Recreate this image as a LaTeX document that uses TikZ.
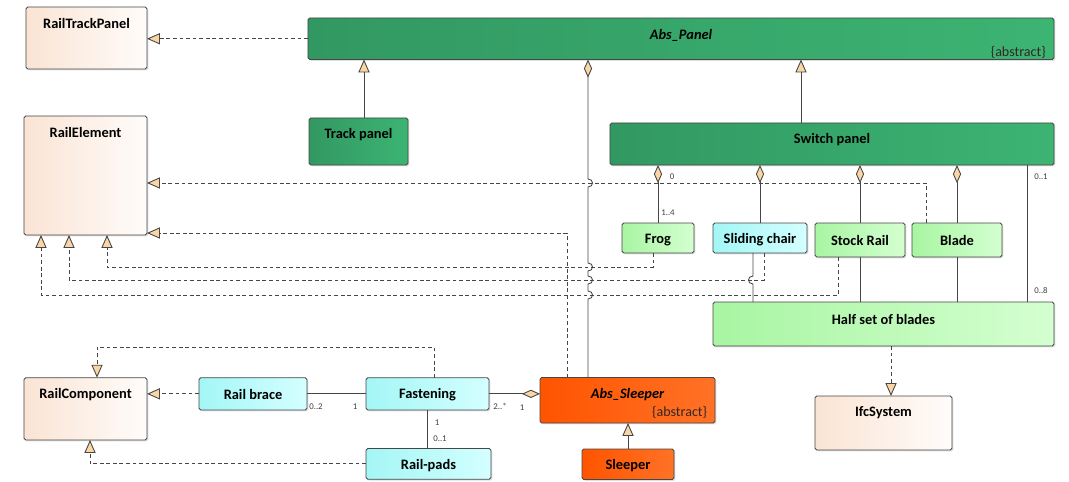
\documentclass[tikz,border=0pt]{standalone}
\usepackage{fontspec}
\setmainfont{Carlito}
\usetikzlibrary{arrows.meta,shadows}

\definecolor{boxline}{RGB}{70,70,70}
\definecolor{conline}{RGB}{70,70,70}
\definecolor{tipfill}{RGB}{250,214,165}
\definecolor{beigeL}{RGB}{250,228,212}
\definecolor{beigeR}{RGB}{255,252,250}
\definecolor{pineL}{RGB}{50,152,98}
\definecolor{pineR}{RGB}{60,180,114}
\definecolor{limeL}{RGB}{168,245,162}
\definecolor{limeR}{RGB}{212,255,208}
\definecolor{aquaL}{RGB}{164,246,246}
\definecolor{aquaR}{RGB}{212,255,255}
\definecolor{rustL}{RGB}{255,84,0}
\definecolor{rustR}{RGB}{255,114,38}
\definecolor{abstext}{RGB}{50,40,35}
\definecolor{multtext}{RGB}{60,60,60}

\begin{document}
\begin{tikzpicture}[x=0.03cm, y=-0.03cm,
        cls/.style = {draw=boxline, line width=0.7pt, rounded corners=1.5pt,
            inner sep=0pt, outer sep=0pt,
            drop shadow={shadow xshift=1.2pt, shadow yshift=-1.2pt, opacity=0.25}},
        ifcbox/.style = {cls, left color=beigeL, right color=beigeR},
        panelbox/.style = {cls, left color=pineL, right color=pineR},
        partbox/.style = {cls, left color=limeL, right color=limeR},
        compbox/.style = {cls, left color=aquaL, right color=aquaR},
        sleeperbox/.style = {cls, left color=rustL, right color=rustR},
        title/.style = {anchor=center, yshift=-0.51cm, inner sep=0pt,
            font=\fontsize{12.3}{14}\selectfont\bfseries},
        abst/.style = {anchor=east, inner sep=0pt, text=abstext,
            font=\fontsize{12}{14}\selectfont},
        mult/.style = {inner sep=0pt, text=multtext,
            font=\fontsize{7.5}{8}\selectfont},
        assoc/.style = {draw=conline, line width=0.75pt},
        gen/.style = {assoc, -{Triangle[length=11pt, width=9.5pt, fill=tipfill]}},
        real/.style = {gen, dash pattern=on 3.2pt off 2.4pt},
        agg/.style = {assoc, -{Diamond[length=15.5pt, width=7pt, fill=tipfill]}}]

    \useasboundingbox (0,0) rectangle (1069,482);

    % IFC classes
    \node[ifcbox, minimum width=3.63cm, minimum height=1.86cm,
        label={[title]north:RailTrackPanel}] (rtp) at (86.5,38) {};
    \node[ifcbox, minimum width=3.69cm, minimum height=3.57cm,
        label={[title]north:RailElement}] (railE) at (85.5,175.5) {};
    \node[ifcbox, minimum width=3.69cm, minimum height=1.87cm,
        label={[title]north:RailComponent}] (railC) at (85.5,408.85) {};
    \node[ifcbox, minimum width=4.11cm, minimum height=1.62cm,
        label={[title]north:IfcSystem}] (ifc) at (883.5,423) {};

    % Panels
    \node[panelbox, minimum width=22.38cm, minimum height=1.245cm,
        label={[title, font=\fontsize{12.3}{14}\selectfont\bfseries\itshape]north:Abs\_Panel},
        label={[abst, xshift=-0.24cm, yshift=0.21cm]south east:\{abstract\}}] (absP) at (681,38.75) {};
    \node[panelbox, minimum width=2.97cm, minimum height=1.41cm,
        label={[title]north:Track panel}] (trackP) at (358.5,141.5) {};
    \node[panelbox, minimum width=13.32cm, minimum height=1.26cm,
        label={[title]north:Switch panel}] (switchP) at (832,144) {};

    % Switch parts
    \node[partbox, minimum width=2.16cm, minimum height=0.9cm,
        label={[title]north:Frog}] (frog) at (658,238) {};
    \node[compbox, minimum width=2.82cm, minimum height=0.9cm,
        label={[title]north:Sliding chair}] (slide) at (760,238) {};
    \node[partbox, minimum width=2.7cm, minimum height=1.02cm,
        label={[title]north:Stock Rail}] (stock) at (860,240) {};
    \node[partbox, minimum width=2.7cm, minimum height=1.02cm,
        label={[title]north:Blade}] (blade) at (957,240) {};
    \node[partbox, minimum width=10.23cm, minimum height=1.32cm,
        label={[title]north:Half set of blades}] (half) at (883.5,324) {};

    % Sleepers
    \node[sleeperbox, minimum width=5.25cm, minimum height=1.365cm,
        label={[title, font=\fontsize{12.3}{14}\selectfont\bfseries\itshape]north:Abs\_Sleeper},
        label={[abst, xshift=-0.23cm, yshift=0.33cm]south east:\{abstract\}}] (absSl) at (627.5,400.25) {};
    \node[sleeperbox, minimum width=2.76cm, minimum height=0.915cm,
        label={[title]north:Sleeper}] (sleeper) at (628,464.25) {};

    % Components
    \node[compbox, minimum width=3.24cm, minimum height=0.97cm,
        label={[title]north:Rail brace}] (brace) at (253,393.85) {};
    \node[compbox, minimum width=3.69cm, minimum height=0.97cm,
        label={[title]north:Fastening}] (fast) at (427.5,393.85) {};
    \node[compbox, minimum width=3.75cm, minimum height=0.924cm,
        label={[title]north:Rail-pads}] (pads) at (428.5,463.9) {};

    % Connector lanes and bends
    \coordinate (gTP) at (364,0);
    \coordinate (gSP) at (801,0);
    \coordinate (aSl) at (588,0);
    \coordinate (aSc) at (753,0);
    \coordinate (aSw) at (1027,0);
    \coordinate (rHs) at (891,0);
    \coordinate (rSl) at (567,233);
    \coordinate (rBl) at (926,183);
    \coordinate (rFr) at (653,267);
    \coordinate (eFr) at (107,267);
    \coordinate (rSc) at (764,280);
    \coordinate (eSc) at (69,280);
    \coordinate (rSr) at (838,295);
    \coordinate (eSr) at (41,295);
    \coordinate (rFa) at (434,347);
    \coordinate (eFa) at (97,347);
    \coordinate (ePd) at (90,0);

    % Generalizations
    \draw[gen] (trackP.north -| gTP) -- (absP.south -| gTP);
    \draw[gen] (switchP.north -| gSP) -- (absP.south -| gSP);
    \draw[gen] (sleeper.north) -- (sleeper.north |- absSl.south);

    % Realizations
    \draw[real] (absP.west) -- (absP.west -| rtp.east);
    \draw[real] (blade.north -| rBl) |- (railE.east |- rBl);
    \draw[real] (absSl.north -| rSl) |- (railE.east |- rSl);
    \draw[real] (frog.south -| rFr) -- (rFr) -- (eFr) -- (railE.south -| eFr);
    \draw[real] (slide.south -| rSc) -- (rSc) -- (eSc) -- (railE.south -| eSc);
    \draw[real] (stock.south -| rSr) -- (rSr) -- (eSr) -- (railE.south -| eSr);
    \draw[real] (half.south -| rHs) -- (ifc.north -| rHs);
    \draw[real] (brace.west) -- (brace.west -| railC.east);
    \draw[real] (fast.north -| rFa) -- (rFa) -- (eFa) -- (railC.north -| eFa);
    \draw[real] (pads.west) -| (railC.south -| ePd);

    % Aggregations
    \draw[agg] (absSl.north -| aSl) -- (588,299)
        .. controls +(6,0) and +(6,0) .. (588,291) -- (588,284)
        .. controls +(6,0) and +(6,0) .. (588,276) -- (588,271)
        .. controls +(6,0) and +(6,0) .. (588,263) -- (588,187)
        .. controls +(6,0) and +(6,0) .. (588,179) -- (absP.south -| aSl);
    \draw[agg] (frog.north) -- (frog.north |- switchP.south);
    \draw[agg] (slide.north) -- (slide.north |- switchP.south);
    \draw[agg] (stock.north) -- (stock.north |- switchP.south);
    \draw[agg] (blade.north) -- (blade.north |- switchP.south);
    \draw[agg] (fast.east) -- (fast.east -| absSl.west);

    % Associations
    \draw[assoc] (slide.south -| aSc) -- (753,276)
        .. controls +(-6,0) and +(-6,0) .. (753,284) -- (half.north -| aSc);
    \draw[assoc] (stock.south) -- (stock.south |- half.north);
    \draw[assoc] (blade.south) -- (blade.south |- half.north);
    \draw[assoc] (switchP.south -| aSw) -- (half.north -| aSw);
    \draw[assoc] (brace.east) -- (fast.west);
    \draw[assoc] (fast.south) -- (pads.north -| fast.south);

    % Multiplicities
    \node[mult] (mFr0) at (672,177) {0};
    \node[mult] (mFr1) at (668,213) {1..4};
    \node[mult] (mSw0) at (1041,177) {0..1};
    \node[mult] (mSw1) at (1041,291) {0..8};
    \node[mult] (mBr0) at (316,407) {0..2};
    \node[mult] (mBr1) at (355,407) {1};
    \node[mult] (mSl0) at (500,406) {2..*};
    \node[mult] (mSl1) at (522,408) {1};
    \node[mult] (mPd0) at (437,423) {1};
    \node[mult] (mPd1) at (440,439) {0..1};

\end{tikzpicture}
\end{document}
